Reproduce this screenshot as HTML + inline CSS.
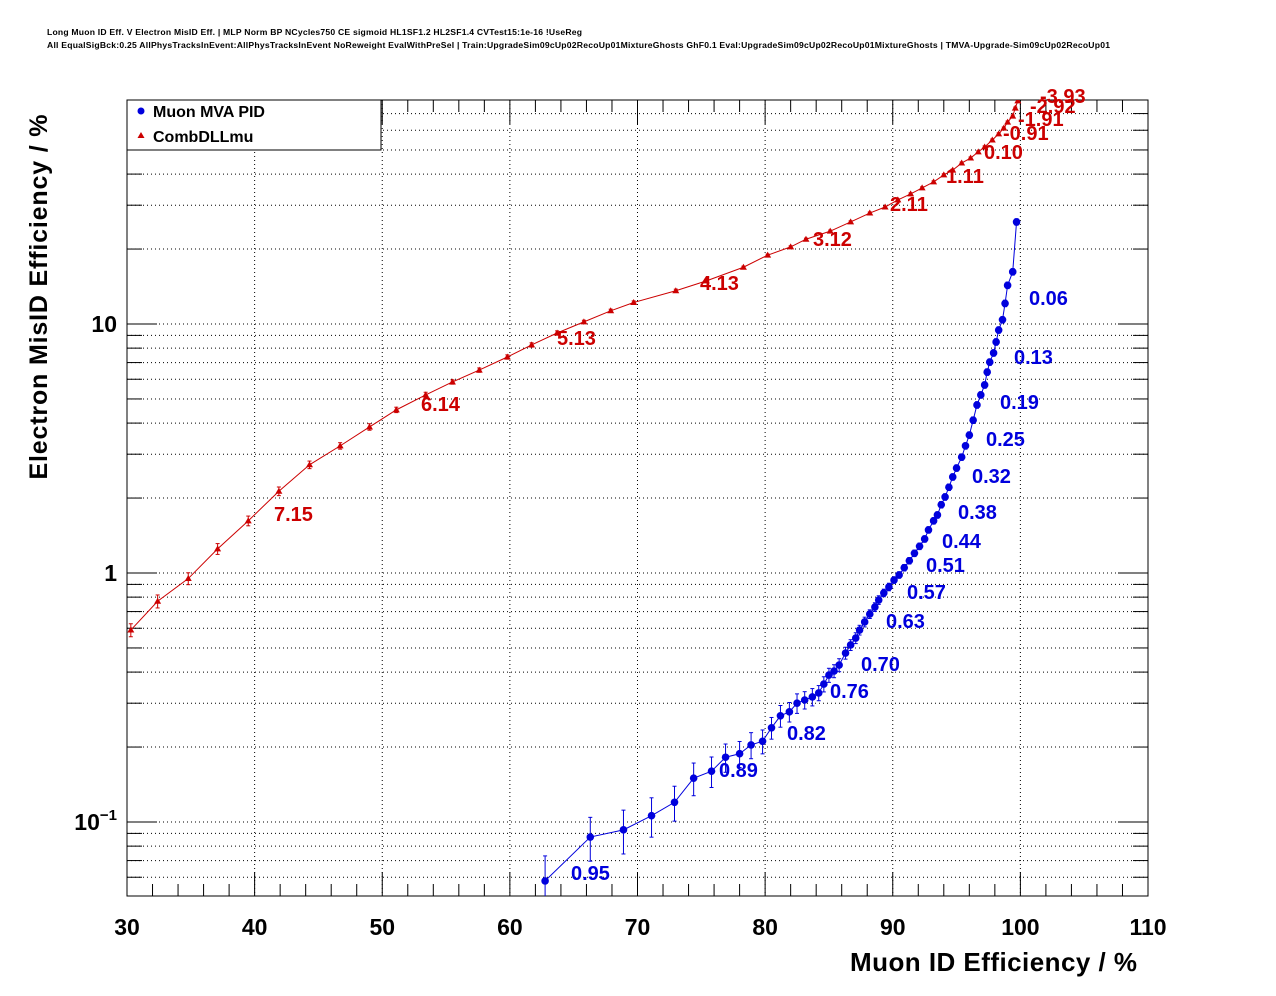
<!DOCTYPE html>
<html><head><meta charset="utf-8"><style>
html,body{margin:0;padding:0;background:#fff;}
svg{display:block;font-family:"Liberation Sans",Arial,sans-serif;}
</style></head><body>
<svg id="c" width="1276" height="996" viewBox="0 0 1276 996">
<defs><clipPath id="frame"><rect x="127" y="100" width="1021" height="796"/></clipPath></defs>
<text x="47" y="35" font-size="8.6" font-weight="bold" textLength="535">Long Muon ID Eff. V Electron MisID Eff. | MLP Norm BP NCycles750 CE sigmoid HL1SF1.2 HL2SF1.4 CVTest15:1e-16 !UseReg</text>
<text x="47" y="48" font-size="8.6" font-weight="bold" textLength="1063">All EqualSigBck:0.25 AllPhysTracksInEvent:AllPhysTracksInEvent NoReweight EvalWithPreSel | Train:UpgradeSim09cUp02RecoUp01MixtureGhosts GhF0.1 Eval:UpgradeSim09cUp02RecoUp01MixtureGhosts | TMVA-Upgrade-Sim09cUp02RecoUp01</text>
<g id="grid"></g>
<g id="axes"></g>
<g id="series" clip-path="url(#frame)"></g>
<g id="labels"></g>
<text x="1137" y="971" font-size="26" font-weight="bold" text-anchor="end" textLength="287">Muon ID Efficiency / %</text>
<text transform="translate(47,297) rotate(-90)" font-size="25" font-weight="bold" text-anchor="middle" textLength="365">Electron MisID Efficiency / %</text>
<g>
<rect x="127" y="100" width="254" height="50" fill="#fff" stroke="#000" stroke-width="1"/>
<circle cx="141" cy="111" r="3.5" fill="#0000dd"/>
<text x="153" y="117" font-size="16" font-weight="bold">Muon MVA PID</text>
<polygon points="141,132 144.5,138 137.5,138" fill="#cc0000"/>
<text x="153" y="142" font-size="16" font-weight="bold">CombDLLmu</text>
</g>
</svg>
<script>
const xTicks=[30,40,50,60,70,80,90,100,110];
const redX=[30.3,32.4,34.8,37.1,39.5,41.9,44.3,46.7,49.0,51.1,53.4,55.5,57.6,59.8,61.7,63.7,65.8,67.9,69.7,73.0,75.4,78.3,80.2,82.0,83.2,85.1,86.7,88.2,89.4,90.4,91.4,92.3,93.2,94.0,94.7,95.4,96.1,96.7,97.2,97.8,98.3,98.7,99.0,99.4,99.6,99.8];
const redY=[0.59,0.77,0.95,1.25,1.62,2.13,2.72,3.24,3.86,4.52,5.19,5.85,6.53,7.37,8.24,9.2,10.2,11.3,12.2,13.6,14.9,16.9,18.9,20.4,21.9,23.6,25.7,27.9,29.5,31.5,33.3,35.2,37.2,39.7,41.5,44.3,46.4,49.1,51.4,54.8,58.0,61.2,64.7,68.4,73.6,78.7];
const redErr=[0.06,0.06,0.055,0.05,0.045,0.04,0.035,0.03,0.03,0.025,0.025,0.02,0.02,0.02,0.02,0.02,0.015,0.015,0.015,0.015,0.015,0.01,0.01,0.01,0.01,0.01,0.01,0.01,0.01,0.01,0.01,0.01,0.01,0.01,0.01,0.01,0.01,0.01,0.01,0.01,0.01,0.01,0.01,0.01,0.01,0.01];
const blueX=[62.76,66.3,68.9,71.1,72.9,74.4,75.8,76.9,78.0,78.9,79.8,80.5,81.2,81.9,82.5,83.1,83.7,84.2,84.6,85.0,85.4,85.8,86.3,86.7,87.1,87.4,87.8,88.2,88.6,88.9,89.3,89.7,90.1,90.5,90.9,91.3,91.7,92.1,92.5,92.8,93.2,93.5,93.8,94.1,94.4,94.7,95.0,95.4,95.7,96.0,96.3,96.6,96.9,97.2,97.4,97.6,97.9,98.1,98.3,98.6,98.8,99.0,99.4,99.7];
const blueY=[0.058,0.087,0.093,0.106,0.120,0.150,0.160,0.182,0.188,0.204,0.211,0.239,0.267,0.277,0.300,0.309,0.318,0.330,0.358,0.389,0.404,0.427,0.477,0.514,0.548,0.590,0.636,0.684,0.730,0.779,0.832,0.879,0.937,0.982,1.05,1.12,1.20,1.28,1.37,1.49,1.62,1.71,1.88,2.02,2.21,2.43,2.64,2.92,3.24,3.58,4.11,4.73,5.19,5.69,6.41,7.03,7.65,8.47,9.46,10.4,12.1,14.3,16.2,25.7];
const blueErr=[0.26,0.2,0.2,0.18,0.16,0.15,0.14,0.13,0.12,0.12,0.11,0.1,0.1,0.09,0.09,0.08,0.08,0.07,0.07,0.065,0.06,0.06,0.055,0.05,0.05,0.045,0.045,0.04,0.04,0.04,0.035,0.035,0.03,0.03,0.03,0.03,0.03,0.03,0.03,0.03,0.03,0.03,0.03,0.03,0.03,0.03,0.03,0.03,0.03,0.03,0.03,0.03,0.03,0.03,0.03,0.03,0.03,0.03,0.03,0.03,0.03,0.03,0.03,0.03];
const redLabels=["7.15","6.14","5.13","4.13","3.12","2.11","1.11","0.10","-0.91","-1.91","-2.92","-3.93"];
const blueLabels=["0.06","0.13","0.19","0.25","0.32","0.38","0.44","0.51","0.57","0.63","0.70","0.76","0.82","0.89","0.95"];

const L=127,R=1148,T=100,B=896;
const X=v=>L+(v-30)*(R-L)/80;
const Y=v=>324-(Math.log10(v)-1)*249;
const NS="http://www.w3.org/2000/svg";
function mk(p,tag,at){const e=document.createElementNS(NS,tag);for(const k in at)e.setAttribute(k,at[k]);p.appendChild(e);return e;}
const grid=document.getElementById('grid'),axes=document.getElementById('axes'),ser=document.getElementById('series'),lab=document.getElementById('labels');
xTicks.forEach((t,i)=>{
 const x=X(t);
 if(i>0&&i<xTicks.length-1){const g=mk(grid,'line',{x1:x,y1:T,x2:x,y2:B,stroke:'#000','stroke-width':1,'stroke-dasharray':'1,3'});
 
 }
 for(let m=0;m<5&&t+m*2<=110;m++){const xx=X(t+m*2);const len=m===0?24:12;
  mk(axes,'line',{x1:xx,y1:B,x2:xx,y2:B-len,stroke:'#000','stroke-width':1});
  mk(axes,'line',{x1:xx,y1:T,x2:xx,y2:T+len,stroke:'#000','stroke-width':1});}
 const tx=mk(axes,'text',{x:x,y:935,'font-size':23,'font-weight':'bold','text-anchor':'middle'});
 tx.textContent=t;
 
 
});
for(let d=-2;d<=1;d++){for(let m=1;m<=9;m++){const v=m*Math.pow(10,d);const y=Y(v);if(y<T-0.5||y>B+0.5)continue;
 const g=mk(grid,'line',{x1:L,y1:y,x2:R,y2:y,stroke:'#000','stroke-width':1,'stroke-dasharray':'1,3'});
 
 
 const len=m===1?30:15;
 mk(axes,'line',{x1:L,y1:y,x2:L+len,y2:y,stroke:'#000','stroke-width':1});
 mk(axes,'line',{x1:R,y1:y,x2:R-len,y2:y,stroke:'#000','stroke-width':1});}}
const yl=[["10",10],["1",1]];
yl.forEach(([s,v])=>{const t=mk(axes,'text',{x:117,y:Y(v)+8,'font-size':23,'font-weight':'bold','text-anchor':'end'});t.textContent=s;
 
 });
{const t=mk(axes,'text',{x:117,y:Y(0.1)+8,'font-size':23,'font-weight':'bold','text-anchor':'end'});
 t.innerHTML='10<tspan font-size="15" dy="-10">−1</tspan>';
 
 }
mk(axes,'rect',{x:L,y:T,width:R-L,height:B-T,fill:'none',stroke:'#000','stroke-width':1});
function draw(xs,ys,es,col,kind,name){
 const pts=xs.map((x,i)=>X(x)+','+Y(ys[i])).join(' ');
 const pl=mk(ser,'polyline',{points:pts,fill:'none',stroke:col,'stroke-width':1});
 
 
 xs.forEach((x,i)=>{const cx=X(x),cy=Y(ys[i]);const y1=Y(ys[i]*(1+es[i])),y2=Y(ys[i]*(1-es[i]));
  mk(ser,'line',{x1:cx,y1:y1,x2:cx,y2:y2,stroke:col,'stroke-width':1});
  mk(ser,'line',{x1:cx-2,y1:y1,x2:cx+2,y2:y1,stroke:col,'stroke-width':1});
  mk(ser,'line',{x1:cx-2,y1:y2,x2:cx+2,y2:y2,stroke:col,'stroke-width':1});
  let m;
  if(kind==='c')m=mk(ser,'circle',{cx:cx,cy:cy,r:3.8,fill:col});
  else m=mk(ser,'polygon',{points:`${cx},${cy-3.5} ${cx+3.5},${cy+2.5} ${cx-3.5},${cy+2.5}`,fill:col});
  
  
 });
}
draw(redX,redY,redErr,'#cc0000','t','dll');
draw(blueX,blueY,blueErr,'#0000dd','c','mva');
const redPos=[[274,514],[421,404],[557,338],[700,283],[813,239],[890,204],[946,176],[984,152],[1003,133],[1018,119],[1030,106],[1040,96]];
const bluePos=[[1029,298],[1014,357],[1000,402],[986,439],[972,476],[958,512],[942,541],[926,565],[907,592],[886,621],[861,664],[830,691],[787,733],[719,770],[571,873]];
redLabels.forEach((s,i)=>{const t=mk(lab,'text',{x:redPos[i][0],y:redPos[i][1]+7,'font-size':20,'font-weight':'bold',fill:'#cc0000'});t.textContent=s;
 
 });
blueLabels.forEach((s,i)=>{const t=mk(lab,'text',{x:bluePos[i][0],y:bluePos[i][1]+7,'font-size':20,'font-weight':'bold',fill:'#0000dd'});t.textContent=s;
 
 });
</script>
</body></html>
